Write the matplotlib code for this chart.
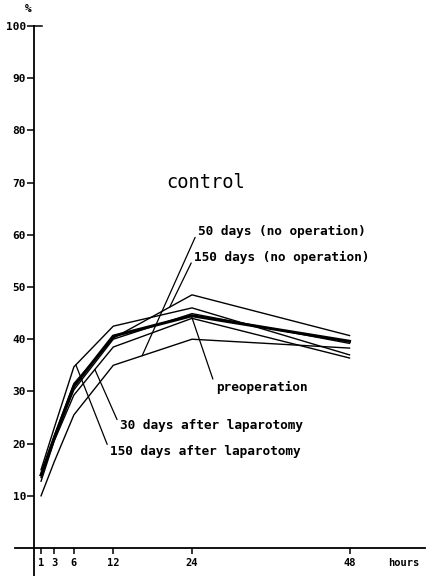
import matplotlib.pyplot as plt
import numpy as np

# hours after injection
hours = [1, 3, 6, 12, 24, 48]

# % values
lap150 = [15.0, 23.0, 34.7, 42.5, 46.0, 37.0]      # 150 days after laparotomy
noop150 = [14.2, 21.5, 31.5, 40.2, 48.5, 40.7]     # 150 days (no operation)
preop = [14.0, 21.0, 31.0, 40.6, 44.5, 39.6]       # preoperation (thick)
extra = [13.5, 21.0, 30.3, 40.0, 44.9, 39.2]
lap30 = [12.8, 20.5, 29.3, 38.5, 44.0, 36.4]       # 30 days after laparotomy
noop50 = [10.0, 16.5, 25.5, 35.0, 40.0, 38.3]      # 50 days (no operation)

xticks = [1, 3, 6, 12, 24, 48]
yticks = [10, 20, 30, 40, 50, 60, 70, 80, 90, 100]

mono = 'DejaVu Sans Mono'

fig = plt.figure(figsize=(4.3, 5.76), dpi=100)
ax = fig.add_axes([15/430, 0, 410/430, 550/576])
ax.set_xlim(-2.97, 59.5)
ax.set_ylim(-5.36, 100)

for s in ['top', 'right']:
    ax.spines[s].set_visible(False)
ax.spines['left'].set_position(('data', 0))
ax.spines['bottom'].set_position(('data', 0))
ax.spines['left'].set_linewidth(1.3)
ax.spines['bottom'].set_linewidth(1.3)

ax.set_xticks(xticks)
ax.set_xticklabels([str(t) for t in xticks], family=mono, fontweight='bold', fontsize=7.5)
ax.set_yticks(yticks)
ax.set_yticklabels([str(t) for t in yticks], family=mono, fontweight='bold', fontsize=8)
ax.tick_params(axis='x', direction='out', length=4, width=1.1, pad=3)
ax.tick_params(axis='y', direction='out', length=5, width=1.1, pad=1)

# small cap at top of y axis
ax.plot([0, 1.2], [100, 100], color='k', lw=1.1, clip_on=False)

ax.text(-1.0, 103.2, '%', family=mono, fontweight='bold', fontsize=8,
        ha='center', va='center', clip_on=False)
ax.text(56.2, -2.9, 'hours', family=mono, fontweight='bold', fontsize=7.5,
        ha='center', va='center')

kw = dict(color='k', lw=1.0)
ax.plot(hours, lap150, **kw)
ax.plot(hours, noop150, **kw)
ax.plot(hours, extra, **kw)
ax.plot(hours, lap30, **kw)
ax.plot(hours, noop50, **kw)
ax.plot(hours, preop, color='k', lw=2.2)

ax.text(26, 70, 'control', family=mono, fontsize=13.5, ha='center', va='center')

def on_line(series, h):
    return h, float(np.interp(h, hours, series))

lab_kw = dict(family=mono, fontweight='bold', fontsize=9.2, ha='left', va='center',
              arrowprops=dict(arrowstyle='-', color='k', lw=0.9, shrinkA=0, shrinkB=0,
                              relpos=(0, 0.5)))

ax.annotate('50 days (no operation)', xy=on_line(noop50, 16.4), xytext=(24.9, 60.7),
            **lab_kw)
ax.annotate('150 days (no operation)', xy=on_line(noop150, 20.6), xytext=(24.3, 55.7),
            **lab_kw)
ax.annotate('preoperation', xy=on_line(preop, 23.9), xytext=(27.6, 30.8), **lab_kw)
ax.annotate('30 days after laparotomy', xy=on_line(lap30, 9.2), xytext=(13.0, 23.4),
            **lab_kw)
ax.annotate('150 days after laparotomy', xy=on_line(lap150, 6.3), xytext=(11.5, 18.5),
            **lab_kw)

fig.savefig('out.png', dpi=100)
